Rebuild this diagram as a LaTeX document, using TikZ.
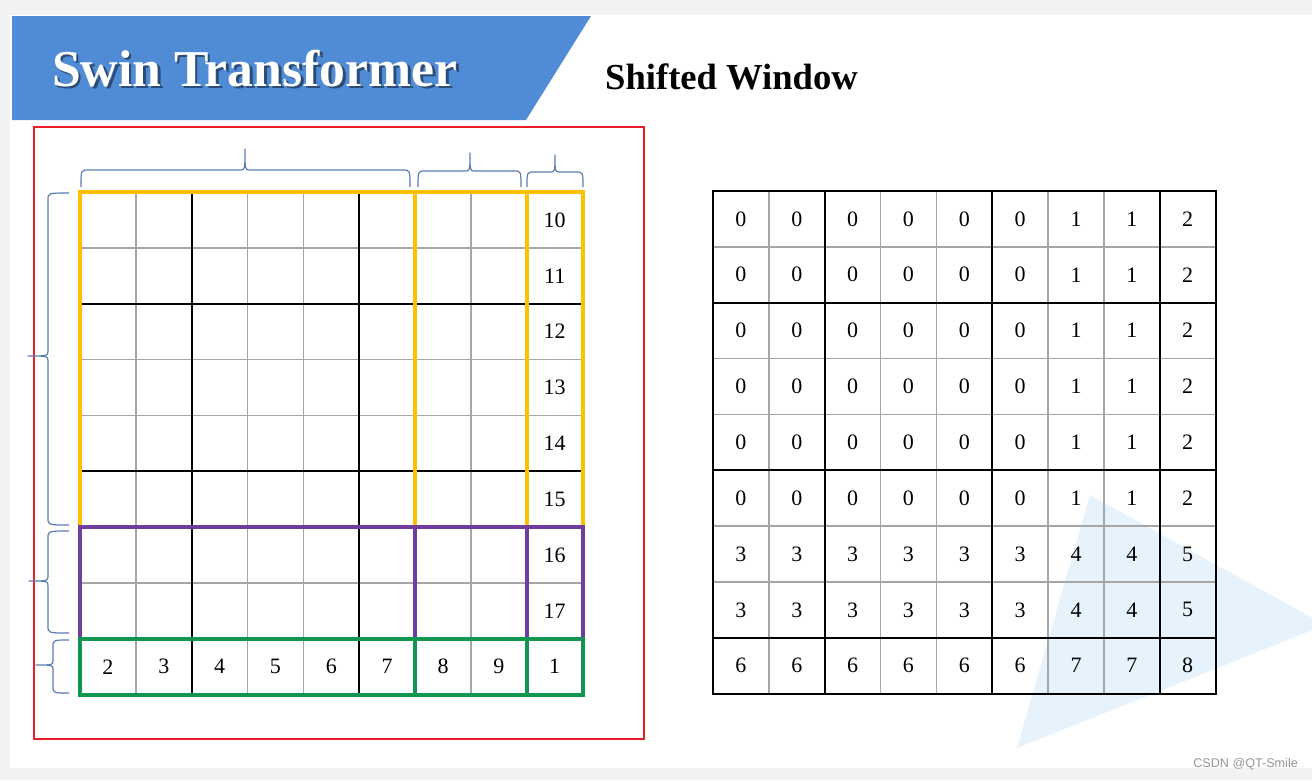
\documentclass[tikz,border=0pt]{standalone}
\usepackage{fontspec}
\setmainfont{Liberation Serif}
\newfontfamily\wmfont{Liberation Sans}
\definecolor{pagegray}{RGB}{241,242,244}
\definecolor{bannerblue}{RGB}{80,139,214}
\definecolor{framered}{RGB}{232,30,40}
\definecolor{gridgray}{RGB}{166,166,166}
\definecolor{winyellow}{RGB}{255,192,0}
\definecolor{winpurple}{RGB}{112,60,160}
\definecolor{wingreen}{RGB}{16,150,80}
\definecolor{bracecol}{RGB}{90,125,180}
\definecolor{tricol}{RGB}{230,243,253}
\definecolor{wmgray}{RGB}{150,150,150}
\def\cs{55.85}
\tikzset{
  num/.style={font=\fontsize{22}{22}\selectfont, inner sep=0pt},
  thingrid/.style={draw=gridgray, line width=1.8pt},
  thickgrid/.style={draw=black, line width=2pt},
  win/.style={line width=4pt, line join=miter},
  bracestyle/.style={draw=bracecol, line width=1.2pt, line join=round},
}
% horizontal brace pointing up: xa, xb, xtip, y ends, y line, y tip
\newcommand{\mybraceh}[6]{%
  \draw[bracestyle] (#1,#4) .. controls (#1,#5) and (#1,#5) .. ({#1+7},#5) -- ({#3-5},#5) .. controls (#3,#5) and (#3,#5) .. (#3,#6) .. controls (#3,#5) and (#3,#5) .. ({#3+5},#5) -- ({#2-7},#5) .. controls (#2,#5) and (#2,#5) .. (#2,#4);
}
% vertical brace pointing left: x ends, x line, x tip, y top, y bottom, y tip
\newcommand{\mybracev}[6]{%
  \draw[bracestyle] (#1,#4) .. controls (#2,#4) and (#2,#4) .. (#2,{#4+7}) -- (#2,{#6-5}) .. controls (#2,#6) and (#2,#6) .. (#3,#6) .. controls (#2,#6) and (#2,#6) .. (#2,{#6+5}) -- (#2,{#5-7}) .. controls (#2,#5) and (#2,#5) .. (#1,#5);
}
\begin{document}
\begin{tikzpicture}[x=1pt,y=-1pt]
\useasboundingbox (0,0) rectangle (1312,780);
% page
\fill[pagegray] (0,0) rectangle (1312,780);
\fill[white] (10,15) rectangle (1312,768);
% banner
\fill[bannerblue] (12,16) -- (591,16) -- (526,120) -- (12,120) -- cycle;
\node[anchor=base west, inner sep=0pt, text=black, opacity=0.45, font=\bfseries\fontsize{51.7}{51.7}\selectfont] (titleshadow) at (54.5,88.5) {Swin Transformer};
\node[anchor=base west, inner sep=0pt, text=white, font=\bfseries\fontsize{51.7}{51.7}\selectfont] (title) at (52,86) {Swin Transformer};
\node[anchor=base west, inner sep=0pt, font=\bfseries\fontsize{36.6}{36.6}\selectfont] (subtitle) at (605,89) {Shifted Window};
% watermark triangle
\fill[tricol] (1090,495) -- (1325,625) -- (1017,748) -- cycle;
% red frame
\draw[framered, line width=1.6pt] (34,127) rectangle (644,739);

% ---------- left grid ----------
\foreach \i in {1,3,4,6,7,8}{
  \draw[thingrid] ({80+\i*\cs},192) -- ({80+\i*\cs},{192+9*\cs});
  \draw[thingrid] (80,{192+\i*\cs}) -- ({80+9*\cs},{192+\i*\cs});
}
\foreach \i in {2,5}{
  \draw[thickgrid] ({80+\i*\cs},192) -- ({80+\i*\cs},{192+9*\cs});
  \draw[thickgrid] (80,{192+\i*\cs}) -- ({80+9*\cs},{192+\i*\cs});
}
% windows
\foreach \a/\b in {0/6,6/8,8/9}{
  \draw[win, winyellow] ({80+\a*\cs},192) rectangle ({80+\b*\cs},{192+6*\cs});
}
\foreach \a/\b in {0/6,6/8,8/9}{
  \draw[win, winpurple] ({80+\a*\cs},{192+6*\cs}) rectangle ({80+\b*\cs},{192+8*\cs});
}
\foreach \a/\b in {0/6,6/8,8/9}{
  \draw[win, wingreen] ({80+\a*\cs},{192+8*\cs}) rectangle ({80+\b*\cs},{192+9*\cs});
}
% left numbers
\foreach \v [count=\r from 0] in {10,11,12,13,14,15,16,17}{
  \node[num] (L-\r-8) at ({80+8.5*\cs},{192+(\r+0.5)*\cs}) {\v};
}
\foreach \v [count=\c from 0] in {2,3,4,5,6,7,8,9,1}{
  \node[num] (L-8-\c) at ({80+(\c+0.5)*\cs},{192+8.5*\cs}) {\v};
}
% braces
\mybraceh{81}{410}{245}{187}{170}{149}
\mybraceh{418}{521}{470}{187}{171}{153}
\mybraceh{527}{583}{555}{187}{172}{155}
\mybracev{69}{48}{28}{193}{525}{356}
\mybracev{69}{48}{29}{531}{633}{581}
\mybracev{69}{53}{36}{640}{693}{665}

% ---------- right grid ----------
\foreach \i in {1,3,4,6,7}{
  \draw[thingrid] ({713+\i*\cs},191) -- ({713+\i*\cs},{191+9*\cs});
  \draw[thingrid] (713,{191+\i*\cs}) -- ({713+9*\cs},{191+\i*\cs});
}
\foreach \i in {2,5,8}{
  \draw[thickgrid] ({713+\i*\cs},191) -- ({713+\i*\cs},{191+9*\cs});
  \draw[thickgrid] (713,{191+\i*\cs}) -- ({713+9*\cs},{191+\i*\cs});
}
\draw[thickgrid] (713,191) rectangle ({713+9*\cs},{191+9*\cs});
\foreach \row [count=\r from 0] in {{0,0,0,0,0,0,1,1,2},{0,0,0,0,0,0,1,1,2},{0,0,0,0,0,0,1,1,2},{0,0,0,0,0,0,1,1,2},{0,0,0,0,0,0,1,1,2},{0,0,0,0,0,0,1,1,2},{3,3,3,3,3,3,4,4,5},{3,3,3,3,3,3,4,4,5},{6,6,6,6,6,6,7,7,8}}{
  \foreach \v [count=\c from 0] in \row {
    \node[num] (R-\r-\c) at ({713+(\c+0.5)*\cs},{191+(\r+0.5)*\cs}) {\v};
  }
}
% watermark text
\node[anchor=base east, inner sep=0pt, text=wmgray, font=\wmfont\fontsize{12.6}{12.6}\selectfont] (wm) at (1298,767) {CSDN @QT-Smile};
\end{tikzpicture}
\end{document}
